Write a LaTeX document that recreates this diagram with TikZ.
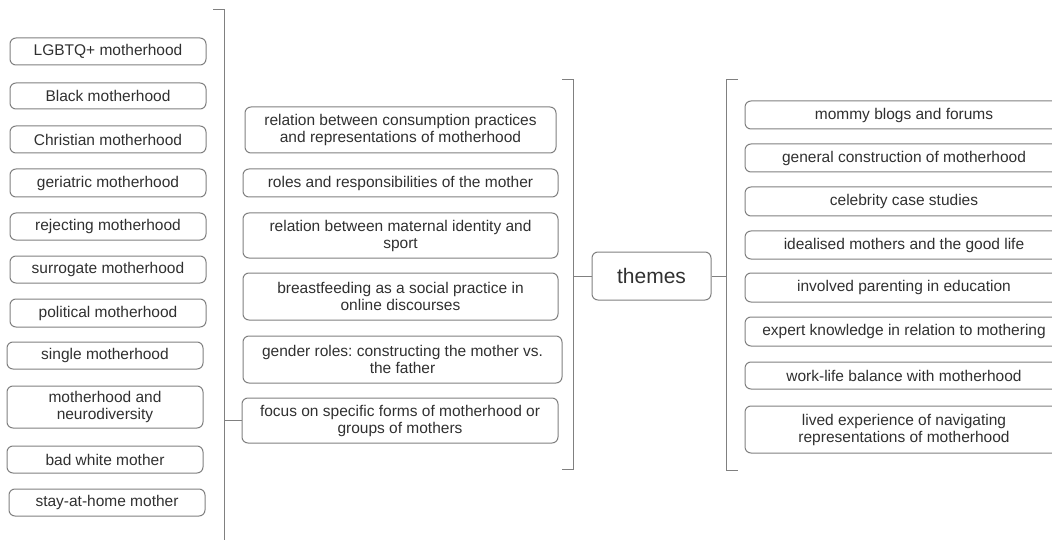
\documentclass[tikz,border=0pt]{standalone}
\usepackage{fontspec}
\setmainfont{Liberation Sans}
\frenchspacing
\definecolor{linegray}{RGB}{128,128,128}
\definecolor{txt}{RGB}{48,48,48}
\tikzset{
  box/.style={draw=linegray, line width=1pt, rounded corners=6pt, align=center,
    inner sep=0pt, text=txt, font=\fontsize{15.5}{17}\selectfont},
  bigbox/.style={box, font=\fontsize{21}{24}\selectfont},
  wire/.style={draw=linegray, line width=1pt},
}
\begin{document}
\begin{tikzpicture}[x=1pt,y=-1pt]
\useasboundingbox (0,0) rectangle (1052,540);
\clip (0,0) rectangle (1052,540);

% left column
\node[box, minimum width=196, minimum height=27] (l1) at (108,51.5) {LGBTQ+ motherhood};
\node[box, minimum width=196, minimum height=26] (l2) at (108,96) {Black motherhood};
\node[box, minimum width=196, minimum height=27] (l3) at (108,139.5) {Christian motherhood};
\node[box, minimum width=196, minimum height=28] (l4) at (108,183) {geriatric motherhood};
\node[box, minimum width=196, minimum height=27] (l5) at (108,226.5) {rejecting motherhood};
\node[box, minimum width=196, minimum height=27] (l6) at (108,269.5) {surrogate motherhood};
\node[box, minimum width=196, minimum height=28] (l7) at (108,313) {political motherhood};
\node[box, minimum width=196, minimum height=27] (l8) at (105,355.5) {single motherhood};
\node[box, minimum width=196, minimum height=42] (l9) at (105,407) {motherhood and\\neurodiversity};
\node[box, minimum width=196, minimum height=27] (l10) at (105,459.5) {bad white mother};
\node[box, minimum width=196, minimum height=27] (l11) at (107,502.5) {stay-at-home mother};

% middle column
\node[box, minimum width=311, minimum height=46] (m1) at (400.5,130) {relation between consumption practices\\and representations of motherhood};
\node[box, minimum width=315, minimum height=28] (m2) at (400.5,183) {roles and responsibilities of the mother};
\node[box, minimum width=315, minimum height=45] (m3) at (400.5,235.5) {relation between maternal identity and\\sport};
\node[box, minimum width=315, minimum height=47] (m4) at (400.5,296.5) {breastfeeding as a social practice in\\online discourses};
\node[box, minimum width=319, minimum height=47] (m5) at (402.5,359.5) {gender roles: constructing the mother vs.\\the father};
\node[box, minimum width=316, minimum height=45] (focus) at (400,420.5) {focus on specific forms of motherhood or\\groups of mothers};

% central node
\node[bigbox, minimum width=119, minimum height=48] (themes) at (651.5,276) {themes};

% right column
\node[box, minimum width=318, minimum height=28] (r1) at (904,115) {mommy blogs and forums};
\node[box, minimum width=318, minimum height=28] (r2) at (904,158) {general construction of motherhood};
\node[box, minimum width=318, minimum height=29] (r3) at (904,201.5) {celebrity case studies};
\node[box, minimum width=318, minimum height=28] (r4) at (904,245) {idealised mothers and the good life};
\node[box, minimum width=318, minimum height=29] (r5) at (904,287.5) {involved parenting in education};
\node[box, minimum width=318, minimum height=29] (r6) at (904,331.5) {expert knowledge in relation to mothering};
\node[box, minimum width=318, minimum height=27] (r7) at (904,375.5) {work-life balance with motherhood};
\node[box, minimum width=318, minimum height=47] (r8) at (904,429.5) {lived experience of navigating\\representations of motherhood};

% brackets
\coordinate (lbt) at (213,10);
\coordinate (lbx) at (224,10);
\coordinate (lbb) at (224,548);
\draw[wire] (lbt) -- (lbx) -- (lbb);
\draw[wire] (focus.west) -- (focus.west -| lbx);

\coordinate (mbt) at (562,80);
\coordinate (mbx) at (573,80);
\coordinate (mby) at (573,469);
\coordinate (mbb) at (562,469);
\draw[wire] (mbt) -- (mbx) -- (mby) -- (mbb);
\draw[wire] (themes.west) -- (themes.west -| mbx);

\coordinate (rbt) at (738,80);
\coordinate (rbx) at (726,80);
\coordinate (rby) at (726,470);
\coordinate (rbb) at (738,470);
\draw[wire] (rbt) -- (rbx) -- (rby) -- (rbb);
\draw[wire] (themes.east) -- (themes.east -| rbx);
\end{tikzpicture}
\end{document}
